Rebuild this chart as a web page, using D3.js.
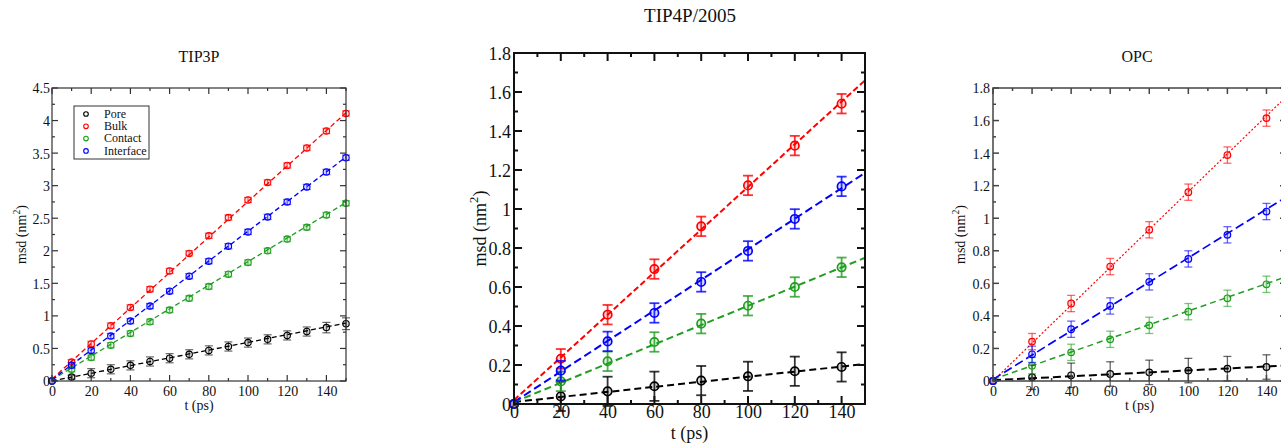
<!DOCTYPE html>
<html><head><meta charset="utf-8">
<script src="https://cdn.jsdelivr.net/npm/d3@7"></script>
<style>
html,body{margin:0;padding:0;background:#fff;overflow:hidden}
text{font-family:"Liberation Serif","Times New Roman",serif;fill:#111}
</style></head>
<body>
<script>
// ---------- DATA ----------
const seriesNames = ["Pore", "Bulk", "Contact", "Interface"];

// TIP3P
const tip3pT = [0,10,20,30,40,50,60,70,80,90,100,110,120,130,140,150];
const tip3pPore      = [0,0.06,0.12,0.18,0.24,0.30,0.35,0.41,0.47,0.53,0.59,0.64,0.70,0.76,0.82,0.88];
const tip3pBulk      = [0,0.29,0.57,0.85,1.13,1.41,1.69,1.96,2.23,2.51,2.78,3.05,3.31,3.58,3.84,4.11];
const tip3pContact   = [0,0.18,0.36,0.55,0.73,0.91,1.09,1.27,1.45,1.64,1.82,2.00,2.18,2.36,2.55,2.73];
const tip3pInterface = [0,0.24,0.47,0.69,0.92,1.15,1.38,1.61,1.84,2.07,2.29,2.52,2.75,2.98,3.21,3.43];
const tip3pErrPore   = [0,0.03,0.07,0.07,0.07,0.07,0.07,0.07,0.07,0.07,0.07,0.07,0.07,0.07,0.08,0.09];
const tip3pErrOther  = [0,0.04,0.04,0.04,0.04,0.04,0.04,0.04,0.04,0.04,0.04,0.04,0.04,0.04,0.04,0.04];
const tip3pFitStart  = [0.0, 0.03, 0.02, 0.02];   // Pore, Bulk, Contact, Interface at t=0
const tip3pFitEnd    = [0.89, 4.12, 2.74, 3.44];  // at t=150

// TIP4P/2005
const tip4pT = [0,20,40,60,80,100,120,140];
const tip4pPore      = [0,0.039,0.065,0.091,0.120,0.142,0.168,0.190];
const tip4pBulk      = [0,0.232,0.458,0.692,0.911,1.121,1.325,1.540];
const tip4pContact   = [0,0.116,0.219,0.318,0.412,0.504,0.600,0.701];
const tip4pInterface = [0,0.171,0.321,0.467,0.626,0.785,0.949,1.116];
const tip4pErrPore   = [0,0.075,0.075,0.075,0.075,0.075,0.075,0.075];
const tip4pErrOther  = [0,0.05,0.05,0.05,0.05,0.05,0.05,0.05];
const tip4pFitStart  = [0.01, 0.02, 0.01, 0.01];
const tip4pFitEnd    = [0.205, 1.66, 0.75, 1.185];

// OPC
const opcT = [0,20,40,60,80,100,120,140];
const opcPore      = [0,0.023,0.035,0.043,0.053,0.064,0.076,0.086];
const opcBulk      = [0,0.242,0.476,0.703,0.929,1.160,1.388,1.615];
const opcContact   = [0,0.094,0.176,0.256,0.342,0.426,0.508,0.594];
const opcInterface = [0,0.164,0.318,0.461,0.609,0.750,0.898,1.041];
const opcErrPore   = [0,0.075,0.075,0.075,0.075,0.075,0.075,0.075];
const opcErrOther  = [0,0.05,0.05,0.05,0.05,0.05,0.05,0.05];
const opcFitStart  = [0.005, 0.0, 0.01, 0.01];
const opcFitEnd    = [0.095, 1.745, 0.64, 1.13];

const xTicks = [0,20,40,60,80,100,120,140];
const tip3pYTicks = [0,0.5,1,1.5,2,2.5,3,3.5,4,4.5];
const tip3pYTickLabels = ["0","0.5","1","1.5","2","2.5","3","3.5","4","4.5"];
const y18Ticks = [0,0.2,0.4,0.6,0.8,1,1.2,1.4,1.6,1.8];
const y18TickLabels = ["0","0.2","0.4","0.6","0.8","1","1.2","1.4","1.6","1.8"];

// ---------- DRAW ----------
const colors = ["#000000", "#ff0000", "#1f9e1f", "#0000ff"];
const svg = d3.select("body").append("svg").attr("width", 1281).attr("height", 443);

function panel(cfg) {
  const x = d3.scaleLinear().domain([0,150]).range([cfg.x0, cfg.x1]);
  const y = d3.scaleLinear().domain([0,cfg.ymax]).range([cfg.y1, cfg.y0]);
  const g = svg.append("g");

  const series = [cfg.pore, cfg.bulk, cfg.contact, cfg.inter];
  // fit lines
  series.forEach((s, i) => {
    g.append("line")
      .attr("x1", x(0)).attr("y1", y(cfg.fitStart[i]))
      .attr("x2", x(150)).attr("y2", y(cfg.fitEnd[i]))
      .attr("stroke", colors[i]).attr("stroke-width", cfg.fitW[i])
      .attr("stroke-dasharray", cfg.fitDash[i]);
  });
  // error bars + markers
  series.forEach((s, i) => {
    const err = i === 0 ? cfg.errPore : cfg.errOther;
    const eg = g.append("g").attr("stroke", colors[i]).attr("stroke-opacity", cfg.errOp).attr("stroke-width", cfg.errW);
    cfg.t.forEach((t, j) => {
      if (err[j] <= 0) return;
      const cx = x(t), yt = y(s[j] + err[j]), yb = y(s[j] - err[j]);
      eg.append("line").attr("x1", cx).attr("x2", cx).attr("y1", yt).attr("y2", yb);
      eg.append("line").attr("x1", cx - cfg.cap).attr("x2", cx + cfg.cap).attr("y1", yt).attr("y2", yt);
      eg.append("line").attr("x1", cx - cfg.cap).attr("x2", cx + cfg.cap).attr("y1", yb).attr("y2", yb);
    });
    g.append("g").selectAll("circle").data(cfg.t).join("circle")
      .attr("cx", d => x(d)).attr("cy", (d, j) => y(s[j])).attr("r", cfg.r)
      .attr("fill", colors[i]).attr("fill-opacity", 0.15)
      .attr("stroke", colors[i]).attr("stroke-width", cfg.mw);
  });

  // frame
  g.append("rect").attr("x", cfg.x0).attr("y", cfg.y0)
    .attr("width", cfg.x1 - cfg.x0).attr("height", cfg.y1 - cfg.y0)
    .attr("fill", "none").attr("stroke", cfg.frameColor).attr("stroke-width", cfg.frameW);

  // ticks (inside, all four sides)
  const xMinor = d3.range(0, 151, 10);
  const yMinor = d3.range(0, cfg.ymax + 1e-9, cfg.yMinorStep);
  const tg = g.append("g").attr("stroke", cfg.frameColor).attr("stroke-width", cfg.frameW);
  xMinor.forEach(v => {
    const len = (v % 20 === 0) ? cfg.tickMaj : cfg.tickMin;
    tg.append("line").attr("x1", x(v)).attr("x2", x(v)).attr("y1", cfg.y1).attr("y2", cfg.y1 - len);
    tg.append("line").attr("x1", x(v)).attr("x2", x(v)).attr("y1", cfg.y0).attr("y2", cfg.y0 + len);
  });
  yMinor.forEach((v, k) => {
    const len = (k % 2 === 0) ? cfg.tickMaj : cfg.tickMin;
    tg.append("line").attr("x1", cfg.x0).attr("x2", cfg.x0 + len).attr("y1", y(v)).attr("y2", y(v));
    tg.append("line").attr("x1", cfg.x1).attr("x2", cfg.x1 - len).attr("y1", y(v)).attr("y2", y(v));
  });

  // tick labels via axes
  const xa = d3.axisBottom(x).tickValues(xTicks).tickSize(0).tickPadding(0);
  const xg = g.append("g").attr("transform", `translate(0,${cfg.xLabY})`).call(xa);
  xg.select(".domain").remove();
  xg.selectAll("text").attr("dy", 0).style("font-size", cfg.fs + "px")
    .style("font-family", '"Liberation Serif",serif').attr("fill", "#111");
  const ya = d3.axisLeft(y).tickValues(cfg.yTicks).tickFormat((d, i) => cfg.yTickLabels[i]).tickSize(0).tickPadding(0);
  const yg = g.append("g").attr("transform", `translate(${cfg.yLabX},0)`).call(ya);
  yg.select(".domain").remove();
  yg.selectAll("text").attr("dy", "0.35em").style("font-size", cfg.fs + "px")
    .style("font-family", '"Liberation Serif",serif').attr("fill", "#111");

  // title and axis labels
  g.append("text").attr("x", cfg.titleX).attr("y", cfg.titleY).attr("text-anchor", "middle")
    .style("font-size", cfg.tfs + "px").text(cfg.title);
  g.append("text").attr("x", (cfg.x0 + Math.min(cfg.x1, 1286)) / 2 + (cfg.xlabDx || 0)).attr("y", cfg.xTitleY)
    .attr("text-anchor", "middle").style("font-size", cfg.fs + "px").text("t (ps)");
  const yl = g.append("text").attr("transform", `translate(${cfg.yTitleX},${(cfg.y0 + cfg.y1) / 2}) rotate(-90)`)
    .attr("text-anchor", "middle").style("font-size", cfg.fs + "px");
  yl.append("tspan").text("msd (nm");
  yl.append("tspan").attr("dy", -cfg.fs * 0.45).style("font-size", (cfg.fs * 0.7) + "px").text("2");
  yl.append("tspan").attr("dy", cfg.fs * 0.45).text(")");

  return {x, y, g};
}

const left = panel({
  x0: 52, x1: 346, y0: 88, y1: 381, ymax: 4.5, yMinorStep: 0.25,
  yTicks: tip3pYTicks, yTickLabels: tip3pYTickLabels,
  t: tip3pT, pore: tip3pPore, bulk: tip3pBulk, contact: tip3pContact, inter: tip3pInterface,
  errPore: tip3pErrPore, errOther: tip3pErrOther, fitStart: tip3pFitStart, fitEnd: tip3pFitEnd,
  fitW: [1.3, 1.3, 1.3, 1.3], fitDash: ["5,3", "5,3", "5,3", "5,3"],
  errOp: 0.6, errW: 1.2, cap: 4, r: 3.2, mw: 1.1,
  frameColor: "#333", frameW: 1.2, tickMaj: 6, tickMin: 3,
  fs: 14, tfs: 16, title: "TIP3P", titleX: 199, titleY: 62,
  xLabY: 396, yLabX: 50, xTitleY: 410, yTitleX: 26
});

// legend
const lg = left.g.append("g");
lg.append("rect").attr("x", 74).attr("y", 106).attr("width", 75).attr("height", 53)
  .attr("fill", "#fff").attr("stroke", "#333").attr("stroke-width", 1);
seriesNames.forEach((n, i) => {
  const yy = 114 + i * 12.3;
  lg.append("circle").attr("cx", 86).attr("cy", yy).attr("r", 2.3)
    .attr("fill", "none").attr("stroke", colors[i]).attr("stroke-width", 1.1);
  lg.append("text").attr("x", 104).attr("y", yy + 3.8).style("font-size", "12px").text(n);
});

panel({
  x0: 514, x1: 865, y0: 53, y1: 404, ymax: 1.8, yMinorStep: 0.1,
  yTicks: y18Ticks, yTickLabels: y18TickLabels,
  t: tip4pT, pore: tip4pPore, bulk: tip4pBulk, contact: tip4pContact, inter: tip4pInterface,
  errPore: tip4pErrPore, errOther: tip4pErrOther, fitStart: tip4pFitStart, fitEnd: tip4pFitEnd,
  fitW: [2, 2, 2, 2], fitDash: ["7,4", "6,3", "7,4", "8,4"],
  errOp: 0.8, errW: 1.8, cap: 5, r: 4.2, mw: 1.7,
  frameColor: "#111", frameW: 2, tickMaj: 8, tickMin: 4,
  fs: 18, tfs: 19, title: "TIP4P/2005", titleX: 690, titleY: 22,
  xLabY: 418, yLabX: 511, xTitleY: 439, yTitleX: 486
});

panel({
  x0: 993, x1: 1286, y0: 88, y1: 381, ymax: 1.8, yMinorStep: 0.1,
  yTicks: y18Ticks, yTickLabels: y18TickLabels,
  t: opcT, pore: opcPore, bulk: opcBulk, contact: opcContact, inter: opcInterface,
  errPore: opcErrPore, errOther: opcErrOther, fitStart: opcFitStart, fitEnd: opcFitEnd,
  fitW: [2, 1.2, 1.5, 1.7], fitDash: ["8,4", "2,2", "6,4", "9,4"],
  errOp: 0.6, errW: 1.3, cap: 4, r: 3.3, mw: 1.2,
  frameColor: "#444", frameW: 1.5, tickMaj: 6, tickMin: 3,
  fs: 14, tfs: 16, title: "OPC", titleX: 1137, titleY: 62,
  xLabY: 396, yLabX: 990, xTitleY: 410, yTitleX: 965, xlabDx: 0
});
</script>
</body></html>
